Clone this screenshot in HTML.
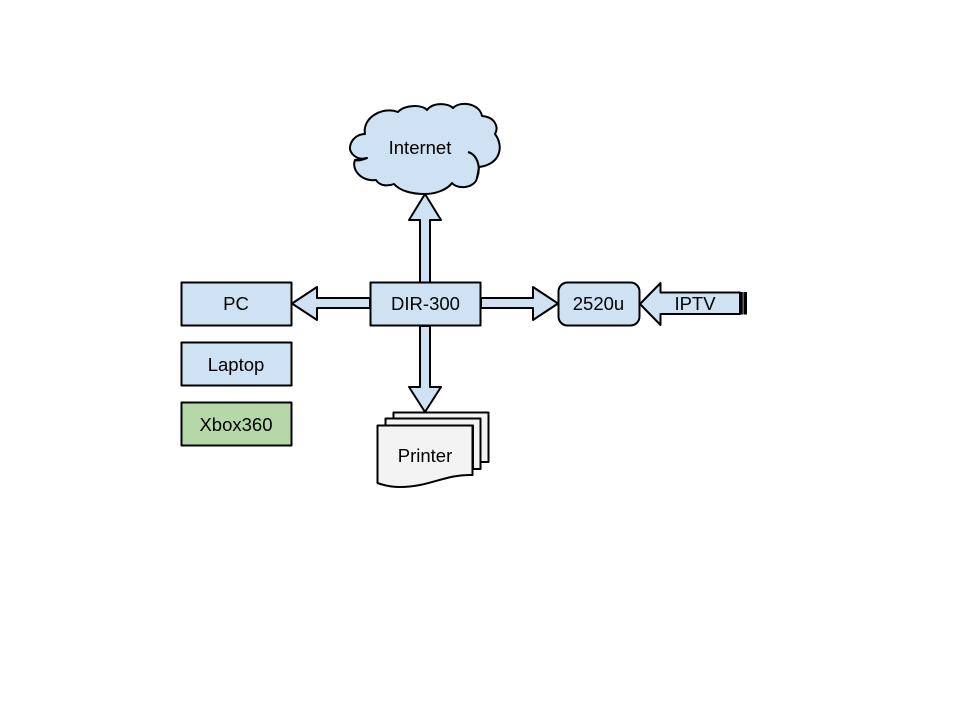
<!DOCTYPE html>
<html><head><meta charset="utf-8"><style>html,body{margin:0;padding:0;background:#fff}svg{display:block}text{font-family:"Liberation Sans",sans-serif;font-size:18.500px;fill:#000;text-anchor:middle}</style></head>
<body><svg xmlns="http://www.w3.org/2000/svg" width="960" height="720" viewBox="0 0 960 720">
<g stroke="#000" stroke-width="2" stroke-linejoin="round" fill="#cfe2f3">
<path d="M367 158C357 161 349 153 350 147C351 139 358 134 365 134C362 118 382 106 398 112C404 105 422 104 427 110C433 102 448 103 453 108C461 100 480 104 482 116C495 117 499 127 495 134C504 146 501 164 479 167L477 178C475 188 458 190 452 183C447 190 435 194 425 194C412 194 400 191 394 184C386 187 379 185 376 180C362 182 351 170 355 160Z"/>
<path d="M468 152C478 155 481 168 477 178M355 160C358 161 363 160 367 158" fill="none"/>
<path d="M420 283V220H409L425 194L441 220H430V283Z"/>
<path d="M420 326V387H409L425 412L441 387H430V326Z"/>
<path d="M370 298H317V287L292 303.500L317 320V308H370Z"/>
<path d="M481 298H533V287L558 303.500L533 320V308H481Z"/>
<path d="M740 292.500H660.500V283L640 304L660.500 325V314H740Z"/>
<rect x="181.500" y="282.500" width="110" height="43"/>
<rect x="181.500" y="342.500" width="110" height="43"/>
<rect x="181.500" y="402.500" width="110" height="43" fill="#b6d7a8"/>
<rect x="370.500" y="282.500" width="110" height="43"/>
<rect x="558.500" y="282.500" width="81" height="43" rx="9"/>
<rect x="739.500" y="292" width="3" height="22.500" fill="#000" stroke="none"/>
<rect x="742.500" y="292" width="1.500" height="22.500" fill="#5a6670" stroke="none"/>
<rect x="744" y="292" width="3" height="22.500" fill="#000" stroke="none"/>
<g fill="#f3f3f3">
<path d="M393.500 412.500H488.500V462H480V418.500H393.500Z"/>
<path d="M385.500 418.500H480.500V469H473V425.500H385.500Z"/>
<path d="M377.500 425.500H472.500V475C445 474 430 487 400 487C390 487 383 485 377.500 483Z"/>
</g>
</g>
<text x="420" y="154">Internet</text>
<text x="236" y="310">PC</text>
<text x="236" y="371">Laptop</text>
<text x="236" y="431">Xbox360</text>
<text x="425.500" y="310">DIR-300</text>
<text x="598.500" y="310">2520u</text>
<text x="695" y="310">IPTV</text>
<text x="425" y="462">Printer</text>
</svg></body></html>
